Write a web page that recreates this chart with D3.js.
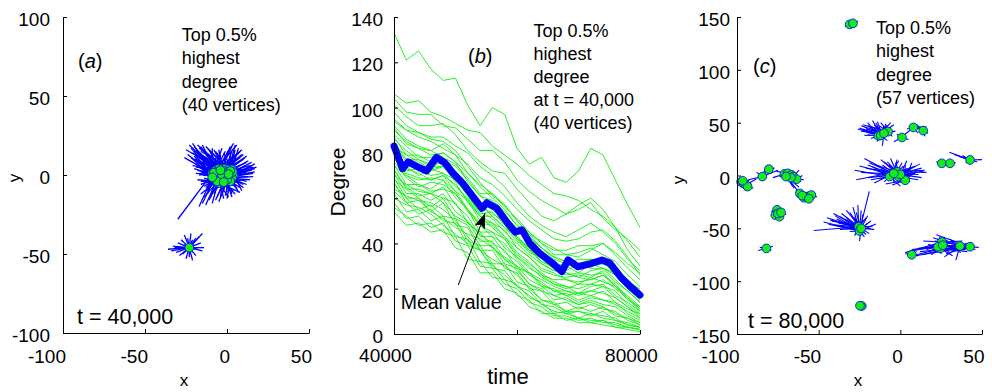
<!DOCTYPE html>
<html>
<head>
<meta charset="utf-8">
<script src="https://cdn.jsdelivr.net/npm/d3@7"></script>
<style>
  body { margin: 0; background: #fff; }
  svg { display: block; font-family: "Liberation Sans", Arial, Helvetica, sans-serif; }
  .axis path, .axis line { stroke: #000; stroke-width: 1; }
  .axis text { font-size: 19px; fill: #000; font-family: "Liberation Sans", Arial, sans-serif; }
  .note { font-size: 18px; fill: #000; }
</style>
</head>
<body>
<svg id="fig" width="992" height="392"></svg>
<script>
// ---------- Panel (a): top-degree vertices at t = 40,000 ----------
// vertices of the main cluster (39) and the lone one (1)
const vertsA = [
  [-9, 1], [-7, 3], [-5, 4], [-3, 4], [-1, 4], [1, 3.5], [3, 3.5], [-8, -1], [-6, 0], [-4, 1],
  [-2, 1], [0, 1], [2, 1], [4, 0], [-7, -3], [-5, -2], [-3, -2], [-1, -2], [1, -1.5], [3, -2],
  [-5, -5], [-3, -4], [0, -4], [2, -4], [-6, 2], [-2, 2.5], [1, 2], [-4, -3.5], [-8, 1.5], [3.5, 2],
  [-1, 0], [-6, -4], [-3, 0], [0, -3], [2, 2.5], [-4, 3], [-9, -1.5], [1, 0.5], [-2, -4.5],
  [-23, -46]
];
// far ends of the edges leaving the main cluster
const edgeEndsA1 = [
  [-21, 20], [-20, 18], [-19, 16], [-21, 14], [-18, 19], [-17, 17], [-16, 15], [-19, 12], [-15, 19], [-14, 16],
  [-13, 13], [-17, 11], [-20, 10], [-12, 17], [-15, 12], [-18, 9], [-14, 10], [-11, 12], [-16, 8], [-13, 7], [-19, 7],
  [-10, 15], [-9, 12], [-8, 16], [-7, 11], [-6, 14], [-5, 10], [-4, 13], [-3, 9], [-2, 14], [-1, 11], [0, 12], [1, 9], [-11, 9],
  [2, 14], [3, 18], [4, 20], [5, 16], [4, 12], [6, 19], [7, 14], [8, 11], [6, 10], [9, 13], [10, 10], [5, 13], [11, 11],
  [12, 8], [14, 6], [16, 5], [13, 4], [15, 3], [17, 4], [12, 2], [14, 1], [16, 1], [11, 6], [13, -1], [10, 3], [15, 6],
  [11, -3], [9, -5], [8, -8], [10, -6], [6, -9], [7, -11], [5, -7], [12, -4], [9, -10],
  [3, -12], [1, -14], [2, -10], [0, -11], [-1, -13], [-2, -9], [4, -10], [-3, -12], [1, -8],
  [-30, -28], [-17, -20], [-15, -18], [-13, -19], [-11, -16], [-14, -14], [-16, -12], [-12, -12], [-10, -14], [-9, -18],
  [-8, -12], [-6, -14], [-5, -17], [-7, -9], [-11, -9], [-13, -8],
  [-17, 5], [-16, 2], [-18, 3], [-15, 0], [-14, -2], [-16, -4], [-13, -5], [-15, 6], [-12, -3], [-17, 0], [-14, 4], [-11, -6],
  [-22, 17], [-20, 15], [-18, 14], [-22, 11], [-17, 13], [-16, 18], [-13, 18], [-11, 16], [-9, 17], [-7, 15],
  [-5, 16], [-3, 17], [-1, 15], [1, 16], [2, 18], [3, 15], [5, 19], [7, 17], [8, 15], [9, 16],
  [10, 13], [12, 12], [13, 9], [15, 8], [17, 7], [18, 5], [17, 2], [16, -1], [14, -3], [12, -6],
  [10, -8], [8, -11], [5, -12], [3, -14], [0, -15], [-2, -15], [-4, -14], [-7, -16], [-9, -11], [-12, -10],
  [-14, -7], [-16, -6], [-18, -3], [-19, 1], [-20, 4], [-21, 6], [-19, 5], [-20, 12],
  [-25, 16], [-24, 13], [-26, 11], [-23, 19]
];
// far ends of the edges leaving the lone vertex
const edgeEndsA2 = [
  [-36, -47], [-34, -48], [-33, -45], [-31, -49], [-30, -43], [-28, -41], [-26, -38], [-24, -40], [-22, -37], [-21, -41],
  [-19, -40], [-17, -39], [-15, -37], [-16, -43], [-14, -46], [-15, -48], [-18, -47], [-19, -51], [-21, -54], [-23, -52],
  [-25, -53], [-27, -50], [-29, -51], [-32, -46], [-20, -44], [-26, -44]
];

// ---------- Panel (b): degree of those 40 vertices over time ----------
const degreeTimes = [40000, 42000, 44000, 46000, 48000, 50000, 52000, 54000, 56000, 58000, 60000,
                     62000, 64000, 66000, 68000, 70000, 72000, 74000, 76000, 78000, 80000];
const degreeSeries = [
  [133, 121, 125, 117, 112, 113, 101, 92, 100, 97, 82, 75, 78, 69, 67, 72, 82, 79, 68, 57, 47],
  [106, 102, 103, 98, 96, 93, 90, 89, 83, 79, 75, 70, 66, 62, 61, 59, 55, 52, 47, 41, 34],
  [104, 98, 97, 97, 92, 91, 86, 81, 81, 76, 68, 63, 59, 56, 53, 55, 58, 51, 46, 42, 37],
  [101, 96, 92, 92, 93, 88, 81, 76, 72, 71, 64, 58, 52, 50, 53, 57, 60, 55, 47, 37, 30],
  [98, 92, 89, 86, 85, 81, 74, 67, 61, 57, 50, 44, 38, 34, 32, 31, 33, 32, 27, 23, 17],
  [95, 90, 89, 87, 87, 83, 80, 74, 70, 65, 58, 52, 48, 45, 43, 46, 49, 45, 40, 33, 28],
  [94, 90, 87, 85, 82, 79, 75, 69, 66, 61, 55, 50, 46, 42, 41, 42, 45, 46, 41, 34, 26],
  [92, 86, 83, 81, 84, 79, 71, 66, 62, 56, 51, 45, 40, 37, 37, 39, 39, 40, 35, 29, 24],
  [91, 84, 82, 81, 78, 75, 69, 62, 62, 57, 50, 44, 41, 38, 35, 34, 37, 40, 36, 31, 27],
  [90, 85, 82, 79, 80, 76, 71, 65, 60, 55, 48, 43, 38, 34, 32, 31, 32, 33, 29, 24, 19],
  [88, 83, 78, 78, 80, 76, 67, 61, 59, 54, 48, 45, 40, 35, 35, 36, 38, 35, 32, 26, 21],
  [87, 79, 79, 76, 75, 70, 66, 58, 55, 50, 42, 38, 31, 28, 28, 31, 29, 29, 24, 19, 14],
  [86, 81, 77, 75, 77, 74, 68, 61, 56, 52, 47, 42, 38, 33, 31, 29, 30, 31, 28, 23, 20],
  [85, 77, 77, 74, 74, 71, 64, 57, 53, 50, 43, 38, 32, 30, 31, 33, 33, 32, 26, 20, 15],
  [84, 76, 72, 74, 76, 68, 61, 53, 54, 48, 42, 36, 34, 29, 27, 25, 28, 29, 27, 22, 18],
  [83, 79, 76, 73, 71, 68, 64, 57, 52, 47, 41, 37, 32, 29, 26, 27, 26, 27, 21, 17, 12],
  [82, 74, 70, 73, 74, 67, 58, 52, 52, 47, 43, 37, 35, 31, 30, 27, 31, 29, 26, 20, 16],
  [81, 72, 73, 70, 71, 65, 60, 52, 49, 46, 38, 34, 28, 26, 25, 26, 25, 28, 23, 19, 14],
  [80, 75, 73, 72, 74, 69, 61, 54, 51, 45, 40, 35, 31, 28, 27, 25, 24, 26, 22, 16, 11],
  [79, 71, 69, 68, 70, 63, 59, 50, 49, 43, 38, 34, 29, 27, 24, 23, 24, 26, 21, 16, 10],
  [78, 70, 68, 69, 68, 63, 55, 49, 48, 43, 36, 32, 26, 24, 24, 22, 25, 23, 21, 15, 12],
  [77, 73, 71, 68, 70, 66, 59, 52, 47, 42, 35, 31, 27, 23, 21, 20, 22, 24, 20, 16, 11],
  [76, 69, 65, 67, 66, 62, 54, 48, 45, 42, 34, 30, 25, 22, 20, 22, 22, 21, 19, 13, 9],
  [75, 66, 66, 64, 68, 60, 55, 45, 45, 38, 34, 29, 26, 22, 21, 18, 21, 22, 17, 14, 10],
  [74, 70, 66, 63, 64, 62, 55, 48, 43, 40, 33, 27, 24, 21, 19, 18, 19, 21, 16, 12, 8],
  [73, 64, 64, 62, 65, 57, 52, 43, 43, 36, 32, 26, 23, 19, 19, 17, 19, 18, 16, 12, 7],
  [72, 65, 61, 62, 60, 58, 49, 44, 40, 37, 29, 27, 21, 20, 17, 18, 17, 19, 14, 11, 9],
  [71, 62, 62, 59, 62, 54, 50, 41, 41, 33, 30, 24, 21, 17, 18, 15, 17, 15, 14, 9, 6],
  [70, 66, 63, 62, 58, 52, 49, 45, 38, 34, 30, 27, 22, 19, 17, 14, 16, 15, 13, 10, 7],
  [69, 60, 60, 56, 60, 51, 48, 39, 39, 31, 29, 22, 20, 15, 16, 13, 15, 13, 12, 8, 5],
  [68, 64, 60, 54, 51, 47, 44, 42, 38, 33, 28, 22, 19, 17, 15, 13, 14, 12, 9, 7, 5],
  [67, 58, 59, 54, 58, 48, 47, 37, 37, 29, 27, 20, 19, 13, 14, 11, 13, 11, 10, 6, 4],
  [66, 60, 55, 57, 52, 51, 41, 39, 31, 31, 23, 21, 15, 14, 10, 12, 10, 12, 8, 7, 4],
  [64, 61, 59, 58, 55, 50, 43, 37, 33, 30, 26, 20, 15, 13, 10, 10, 9, 8, 7, 4, 3],
  [63, 58, 53, 55, 50, 49, 39, 37, 29, 28, 21, 19, 13, 12, 9, 10, 8, 10, 6, 5, 3],
  [62, 54, 55, 50, 52, 43, 42, 32, 31, 24, 22, 16, 14, 9, 10, 7, 9, 7, 6, 4, 3],
  [60, 57, 56, 53, 48, 44, 40, 37, 30, 26, 21, 17, 13, 10, 9, 7, 6, 6, 4, 3, 2],
  [58, 51, 52, 47, 49, 41, 39, 30, 29, 22, 20, 14, 12, 8, 8, 6, 7, 5, 5, 3, 2],
  [56, 52, 48, 49, 45, 43, 33, 32, 25, 24, 17, 15, 9, 9, 6, 7, 5, 6, 3, 3, 2],
  [54, 48, 49, 45, 46, 38, 36, 27, 27, 20, 18, 12, 10, 7, 7, 5, 5, 4, 3, 2, 1]
];
const meanTimes = [40000, 41400, 42300, 43700, 45300, 46900, 48300, 49600, 51200, 52900, 54300, 55100, 56700, 58300,
                   59700, 60800, 62100, 63700, 65900, 67300, 68300, 69900, 71900, 73800, 75100, 76800, 78400, 80000];
const meanDegree = [83, 73, 76, 74, 72, 78, 75.5, 71, 66.5, 60.5, 55.5, 58, 55.5, 49.6,
                    45, 46, 40, 35.6, 31, 27.5, 32.7, 29.7, 31, 32.7, 31.3, 25.3, 21, 17.2];
const meanArrow = { from: [50450, 21.6], to: [54800, 53.3] };

// ---------- Panel (c): top-degree vertices at t = 80,000 (57 vertices, by cluster) ----------
const vertsC = [
  [[-31, 143], [-29, 144]],
  [[-97.5, -6], [-96, -7.5], [-94.5, -9], [-93.5, -10.5], [-96.5, -5]],
  [[-84.5, -1], [-80.5, 6]],
  [[-71, 1.5], [-69, 2], [-66.5, 0.5], [-65.5, -1], [-63.5, -3.5], [-67, -2], [-70, -1]],
  [[-61.5, -17], [-59, -21], [-57.5, -20], [-54.5, -18.5], [-60, -19], [-56, -22]],
  [[-75.5, -32.5], [-76.5, -37.5], [-74, -39], [-75, -36], [-73, -35]],
  [[-82, -69]],
  [[-25.5, -48.5], [-25, -52.5], [-24, -50]],
  [[-13.5, 37.5], [-11.5, 39.5], [-7.5, 41.5], [-12, 38], [-10, 40]],
  [[1, 36]],
  [[8, 45.5], [14, 42.5]],
  [[-6.5, -1], [-2, 3.5], [-1, -1], [3, -4.5], [0, 1], [-4, 2]],
  [[25.4, 11.5], [30.4, 11.5]],
  [[42.7, 14.7]],
  [[25.5, -63], [24.5, -69], [23, -67.5], [36.5, -66.7], [42.7, -67.4], [26, -66]],
  [[7, -75]],
  [[-23.6, -123.5], [-24.7, -123.2]]
];
const edgeEndsC = [
  [[-34, 141], [-26, 146], [-33, 145], [-27, 141], [-30, 147], [-28, 140]],
  [[-100, -4], [-99, -8], [-91, -8], [-90, -12], [-95, -14], [-92, -4], [-98, -11], [-88, -3]],
  [[-88, 3], [-77, 7], [-82, 9], [-86, -4], [-75, 5], [-79, 2], [-93, -4]],
  [[-78, -2], [-76, 4], [-74, -1], [-62, 5], [-60, 0], [-61, -6], [-65, -12], [-63, -14], [-66, -10], [-72, 4],
   [-68, 6], [-59, -4], [-64, -8], [-62, -11]],
  [[-64, -14], [-52, -17], [-51, -20], [-55, -23], [-58, -24], [-62, -22], [-53, -15]],
  [[-79, -34], [-71, -32], [-72, -40], [-78, -40], [-75, -29], [-70, -37]],
  [[-87, -71], [-86, -68], [-78, -67], [-79, -71], [-84, -66]],
  [[-53, -52], [-19, -15], [-45, -40], [-42, -43], [-40, -38], [-38, -45], [-36, -36], [-34, -42], [-33, -33], [-30, -38],
   [-29, -30], [-27, -35], [-26, -28], [-24, -33], [-23, -37], [-21, -40], [-20, -45], [-18, -43], [-17, -48], [-15, -46],
   [-16, -51], [-19, -55], [-22, -58], [-25, -62], [-28, -57], [-31, -53], [-35, -49], [-40, -47], [-44, -46], [-37, -51],
   [-32, -46], [-28, -44], [-43, -42], [-41, -36], [-39, -41], [-37, -39], [-35, -44], [-33, -40], [-31, -35], [-30, -45],
   [-28, -39], [-27, -42], [-22, -42], [-20, -38], [-18, -50], [-21, -56], [-47, -44], [-38, -48]],
  [[-25, 45], [-24, 42], [-23, 48], [-22, 38], [-21, 44], [-20, 50], [-19, 46], [-18, 35], [-17, 52], [-16, 48],
   [-15, 44], [-14, 51], [-12, 50], [-10, 47], [-9, 49], [-6, 45], [-4, 48], [-5, 37], [-8, 33], [-11, 28],
   [-14, 32], [-3, 42], [-19, 41], [-26, 44], [-24, 47], [-22, 46], [-21, 41], [-20, 47], [-18, 44], [-17, 40],
   [-16, 45], [-15, 50], [-13, 47], [-12, 44], [-9, 44], [-8, 48], [-6, 50], [-20, 39], [-23, 44]],
  [[-4, 32], [5, 34], [-2, 39]],
  [[4, 44], [6, 48], [11, 40], [17, 40], [16, 46], [15, 37], [3, 39], [10, 48]],
  [[-28, 5], [-27, -4], [-25, 9], [-22, 16], [-20, -2], [-19, 12], [-17, 8], [-16, -7], [-14, 4], [-12, 15],
   [-13, -3], [-11, 10], [-10, -6], [-8, 13], [-6, 16], [-5, -9], [-3, 12], [-2, 15], [0, -10], [1, 12],
   [2, -8], [3, 10], [4, 14], [5, 6], [6, -6], [8, 8], [9, 2], [10, 5], [12, 11], [13, -2],
   [14, 4], [16, 3], [11, -4], [7, 12], [-24, 3], [-21, 7], [-18, -4], [-15, 10], [-12, 6], [-9, -8],
   [-7, 10], [-4, -7], [-1, 14], [2, 9], [5, -5], [7, 4], [9, 9], [11, 1], [13, 7], [15, 5],
   [-20, 10], [-10, 13]],
  [[22, 13], [33, 10], [34, 12], [28, 9]],
  [[30, 22], [33, 20], [36, 18], [38, 19], [47, 13], [50, 15], [45, 17], [40, 12]],
  [[3, -73], [5, -77], [7, -70], [10, -76], [12, -72], [15, -68], [14, -62], [17, -65], [18, -72], [20, -59],
   [22, -56], [27, -58], [29, -61], [30, -72], [32, -76], [34, -80], [28, -74], [33, -63], [38, -62], [40, -70],
   [44, -64], [46, -70], [48, -68], [19, -75], [37, -73], [41, -72], [8, -71], [11, -69], [13, -75], [16, -70],
   [21, -62], [23, -60], [25, -74], [27, -77], [31, -66], [35, -70], [39, -66], [43, -69], [45, -66], [30, -60],
   [20, -70], [24, -58]],
  [[3, -74], [11, -76], [10, -72], [5, -78]],
  [[-27, -124], [-21, -122], [-22, -125]]
];

// ---------- drawing ----------
const svg = d3.select('#fig');
svg.append('rect').attr('width', 992).attr('height', 392).attr('fill', '#fff');

const GREEN = '#11ee11';
const BLUE = '#0000ff';

const plainFmt = d => String(d);

// axes with inward ticks, matlab-like
const drawAxes = (g, x, y, o) => {
    const ax = g.append('g')
        .attr('class', 'axis')
        .attr('transform', `translate(0,${y.range()[0]})`)
        .call(d3.axisBottom(x).tickValues(o.xTicks).tickFormat(o.xFormat || plainFmt)
            .tickSizeInner(-4).tickSizeOuter(0).tickPadding(o.xPad));
    ax.selectAll('text').attr('text-anchor', o.xAnchor).attr('dx', o.xDx);

    const ay = g.append('g')
        .attr('class', 'axis')
        .attr('transform', `translate(${x.range()[0]},0)`)
        .call(d3.axisLeft(y).tickValues(o.yTicks).tickFormat(plainFmt)
            .tickSizeInner(-4).tickSizeOuter(0).tickPadding(o.yPad));
    ay.selectAll('text').attr('dy', '0.45em');
};

const addNote = (g, x, y0, step, lines) => {
    lines.forEach((t, i) => {
        g.append('text').attr('class', 'note').attr('x', x).attr('y', y0 + i * step).text(t);
    });
};

const addTag = (g, x, y, letter) => {
    const t = g.append('text').attr('x', x).attr('y', y).style('font-size', '20px');
    t.append('tspan').text('(');
    t.append('tspan').style('font-style', 'italic').text(letter);
    t.append('tspan').text(')');
};

const drawNetwork = (g, x, y, clusters, ends, edgeWidth) => {
    const edges = [];
    clusters.forEach((vs, c) => {
        ends[c].forEach((e, i) => {
            const v = vs[i % vs.length];
            edges.push([v, e]);
        });
    });
    g.append('g').selectAll('line')
        .data(edges)
        .enter()
        .append('line')
        .attr('x1', d => x(d[0][0]))
        .attr('y1', d => y(d[0][1]))
        .attr('x2', d => x(d[1][0]))
        .attr('y2', d => y(d[1][1]))
        .attr('stroke', BLUE)
        .attr('stroke-width', edgeWidth);

    g.append('g').selectAll('circle')
        .data(clusters.flat())
        .enter()
        .append('circle')
        .attr('cx', d => x(d[0]))
        .attr('cy', d => y(d[1]))
        .attr('r', 4.4)
        .attr('fill', GREEN)
        .attr('stroke', BLUE)
        .attr('stroke-width', 0.8);
};

// Panel (a)
const gA = svg.append('g');
const xA = d3.scaleLinear().domain([-100, 50]).range([63, 309]);
const yA = d3.scaleLinear().domain([-100, 100]).range([333, 17]);
drawNetwork(gA, xA, yA, [vertsA.slice(0, 39), vertsA.slice(39)], [edgeEndsA1, edgeEndsA2], 1.3);
drawAxes(gA, xA, yA, {
    xTicks: [-100, -50, 0, 50], yTicks: [-100, -50, 0, 50, 100],
    xPad: 17, xAnchor: 'end', xDx: 2.5, yPad: 13
});
addTag(gA, 78, 68, 'a');
addNote(gA, 181.7, 40.7, 23.5, ['Top 0.5%', 'highest', 'degree', '(40 vertices)']);
gA.append('text').attr('x', 77).attr('y', 324).style('font-size', '21.5px').text('t = 40,000');
gA.append('text').attr('x', 184).attr('y', 386).attr('text-anchor', 'middle').style('font-size', '17px').text('x');
gA.append('text').attr('transform', 'translate(19.5,178) rotate(-90)').attr('text-anchor', 'middle')
    .style('font-size', '17px').text('y');

// Panel (b)
const gB = svg.append('g');
const xB = d3.scaleLinear().domain([40000, 80000]).range([394, 640]);
const yB = d3.scaleLinear().domain([0, 140]).range([334, 17]);

const seriesLine = d3.line()
    .x((d, i) => xB(degreeTimes[i]))
    .y(d => yB(d));

gB.append('g').selectAll('path')
    .data(degreeSeries)
    .enter()
    .append('path')
    .attr('d', seriesLine)
    .attr('fill', 'none')
    .attr('stroke', GREEN)
    .attr('stroke-width', 0.9);

const meanLine = d3.line()
    .x((d, i) => xB(meanTimes[i]))
    .y(d => yB(d));

gB.append('path')
    .datum(meanDegree)
    .attr('d', meanLine)
    .attr('fill', 'none')
    .attr('stroke', BLUE)
    .attr('stroke-width', 7)
    .attr('stroke-linejoin', 'round')
    .attr('stroke-linecap', 'round');

drawAxes(gB, xB, yB, {
    xTicks: [40000, 60000, 80000], xFormat: d => (d === 60000 ? '' : String(d)),
    yTicks: d3.range(0, 141, 20),
    xPad: 14.5, xAnchor: 'middle', xDx: -9, yPad: 11
});

// arrow to the mean line
svg.append('defs').append('marker')
    .attr('id', 'arrowhead')
    .attr('markerUnits', 'userSpaceOnUse')
    .attr('markerWidth', 16)
    .attr('markerHeight', 11)
    .attr('refX', 15)
    .attr('refY', 5.5)
    .attr('orient', 'auto')
    .append('path')
    .attr('d', 'M0,0 L15,5.5 L0,11 L3,5.5 Z')
    .attr('fill', '#000');

gB.append('line')
    .attr('x1', xB(meanArrow.from[0]))
    .attr('y1', yB(meanArrow.from[1]))
    .attr('x2', xB(meanArrow.to[0]))
    .attr('y2', yB(meanArrow.to[1]))
    .attr('stroke', '#000')
    .attr('stroke-width', 1)
    .attr('marker-end', 'url(#arrowhead)');

gB.append('text').attr('x', 400.7).attr('y', 309.3).style('font-size', '19.5px').text('Mean value');
addTag(gB, 468, 63, 'b');
addNote(gB, 533.5, 36.7, 23, ['Top 0.5%', 'highest', 'degree', 'at t = 40,000', '(40 vertices)']);
gB.append('text').attr('x', 508).attr('y', 384).attr('text-anchor', 'middle').style('font-size', '22px').text('time');
gB.append('text').attr('transform', 'translate(345,182) rotate(-90)').attr('text-anchor', 'middle')
    .style('font-size', '21px').text('Degree');

// Panel (c)
const gC = svg.append('g');
const xC = d3.scaleLinear().domain([-100, 50]).range([737, 982]);
const yC = d3.scaleLinear().domain([-150, 150]).range([334, 17]);
drawNetwork(gC, xC, yC, vertsC, edgeEndsC, 1.1);
drawAxes(gC, xC, yC, {
    xTicks: [-100, -50, 0, 50], yTicks: [-150, -100, -50, 0, 50, 100, 150],
    xPad: 16, xAnchor: 'end', xDx: 2, yPad: 7
});
addTag(gC, 753, 73, 'c');
addNote(gC, 876, 33.5, 23.5, ['Top 0.5%', 'highest', 'degree', '(57 vertices)']);
gC.append('text').attr('x', 748).attr('y', 328).style('font-size', '21.5px').text('t = 80,000');
gC.append('text').attr('x', 858).attr('y', 386).attr('text-anchor', 'middle').style('font-size', '17px').text('x');
gC.append('text').attr('transform', 'translate(684,180) rotate(-90)').attr('text-anchor', 'middle')
    .style('font-size', '17px').text('y');
</script>
</body>
</html>
